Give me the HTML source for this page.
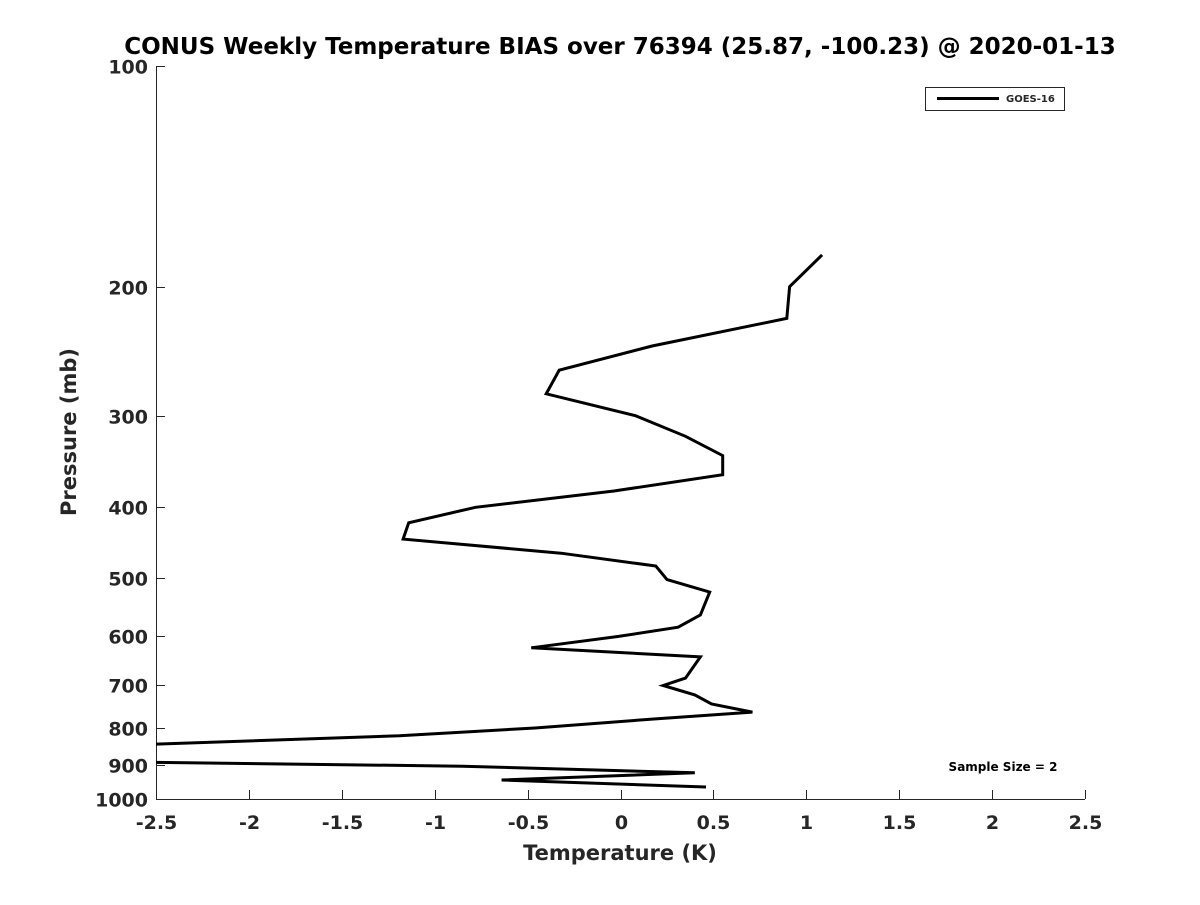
<!DOCTYPE html>
<html><head><meta charset="utf-8"><style>
body{margin:0;background:#fff;}
svg text{font-family:"DejaVu Sans","Liberation Sans",sans-serif;font-weight:bold;fill:#262626;}
</style></head><body>
<svg width="1200" height="900" xmlns="http://www.w3.org/2000/svg">
<defs><clipPath id="clip"><rect x="156" y="66" width="929" height="733"/></clipPath></defs>
<text x="620" y="54" text-anchor="middle" font-size="23" style="fill:#000">CONUS Weekly Temperature BIAS over 76394 (25.87, -100.23) @ 2020-01-13</text>
<g id="axes"></g>
<g id="series" clip-path="url(#clip)"></g>
<g>
<rect x="925.5" y="87.5" width="139" height="23" fill="#fff" stroke="#262626" stroke-width="1"/>
<line x1="937" y1="98.5" x2="999" y2="98.5" stroke="#000" stroke-width="3"/>
<text x="1006" y="102" font-size="10">GOES-16</text>
</g>
<text x="1003" y="771" text-anchor="middle" font-size="12" style="fill:#000">Sample Size = 2</text>
<text x="620" y="860" text-anchor="middle" font-size="21">Temperature (K)</text>
<text transform="translate(76,432) rotate(-90)" text-anchor="middle" font-size="21">Pressure (mb)</text>
</svg>
<script>
const temps=[1.085,0.91,0.895,0.17,-0.33,-0.40,0.08,0.35,0.55,0.55,-0.035,-0.78,-1.14,-1.17,-0.32,0.19,0.25,0.48,0.43,0.31,-0.01,-0.48,0.43,0.35,0.23,0.40,0.49,0.71,0.17,-0.46,-1.19,-3.0,-3.0,-0.85,0.40,-0.64,0.46];
const pressures=[181,200,221,241,260,280,300,320,340,361,380,400,420,442,462,481,502,522,561,583,600,622,640,684,700,721,742,761,778,800,820,850,888,902,921,942,963];
const xTicks=[-2.5,-2,-1.5,-1,-0.5,0,0.5,1,1.5,2,2.5];
const yTicks=[100,200,300,400,500,600,700,800,900,1000];
const X0=156,X1=1085,Y0=66,Y1=799;
function xs(t){return X0+(t+2.5)/5*(X1-X0);}
function ys(p){return Y0+(Math.log10(p)-2)*(Y1-Y0);}
const NS="http://www.w3.org/2000/svg";
const axes=document.getElementById('axes');
function mk(tag,attrs,parent){const e=document.createElementNS(NS,tag);for(const k in attrs)e.setAttribute(k,attrs[k]);parent.appendChild(e);return e;}
const xa=mk('line',{x1:X0,y1:Y1+0.5,x2:X1,y2:Y1+0.5,stroke:'#262626','stroke-width':1},axes);


const ya=mk('line',{x1:X0+0.5,y1:Y0,x2:X0+0.5,y2:Y1,stroke:'#262626','stroke-width':1},axes);


xTicks.forEach(t=>{const x=Math.round(xs(t))+0.5;
 const l=mk('line',{x1:x,y1:Y1,x2:x,y2:Y1-9,stroke:'#262626'},axes);
 
 
 const tx=mk('text',{x:x,y:Y1+30,'text-anchor':'middle','font-size':19},axes);tx.textContent=String(t);
 
 });
yTicks.forEach(p=>{const y=Math.round(ys(p))+0.5;
 const l=mk('line',{x1:X0,y1:y,x2:X0+9,y2:y,stroke:'#262626'},axes);
 
 
 const tx=mk('text',{x:X0-8,y:y+7,'text-anchor':'end','font-size':19},axes);tx.textContent=String(p);
 
 });
const pts=temps.map((t,i)=>xs(t).toFixed(1)+','+ys(pressures[i]).toFixed(1)).join(' ');
const pl=mk('polyline',{points:pts,fill:'none',stroke:'#000','stroke-width':3,'stroke-linejoin':'miter'},document.getElementById('series'));


</script>
</body></html>
